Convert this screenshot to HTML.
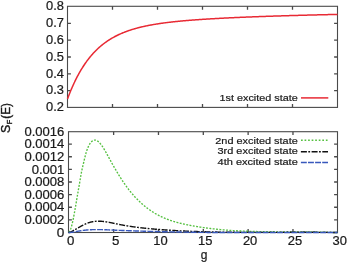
<!DOCTYPE html>
<html><head><meta charset="utf-8"><style>
html,body{margin:0;padding:0;background:#fff;}
body{width:350px;height:263px;overflow:hidden;}
svg{display:block;will-change:transform;filter:blur(0.35px);font-family:"Liberation Sans",sans-serif;}
</style></head><body>
<svg width="350" height="263" viewBox="0 0 350 263">
<rect width="350" height="263" fill="#fff"/>
<g fill="none" stroke="#4a4a4a" stroke-width="1.1">
<rect x="67.5" y="6.3" width="270" height="101.1"/>
<rect x="68.5" y="131.7" width="269" height="100.8"/>
<path d="M112.50,6.30 V9.70 M112.50,107.40 V104.00 M157.50,6.30 V9.70 M157.50,107.40 V104.00 M202.50,6.30 V9.70 M202.50,107.40 V104.00 M247.50,6.30 V9.70 M247.50,107.40 V104.00 M292.50,6.30 V9.70 M292.50,107.40 V104.00 M67.50,23.33 H70.90 M337.50,23.33 H334.10 M67.50,40.17 H70.90 M337.50,40.17 H334.10 M67.50,57.00 H70.90 M337.50,57.00 H334.10 M67.50,73.83 H70.90 M337.50,73.83 H334.10 M67.50,90.67 H70.90 M337.50,90.67 H334.10" stroke-width="1.3"/>
<path d="M113.63,131.70 V135.10 M113.63,232.50 V229.10 M158.47,131.70 V135.10 M158.47,232.50 V229.10 M203.30,131.70 V135.10 M203.30,232.50 V229.10 M248.13,131.70 V135.10 M248.13,232.50 V229.10 M292.97,131.70 V135.10 M292.97,232.50 V229.10 M68.50,144.12 H71.90 M337.50,144.12 H334.10 M68.50,156.75 H71.90 M337.50,156.75 H334.10 M68.50,169.38 H71.90 M337.50,169.38 H334.10 M68.50,182.00 H71.90 M337.50,182.00 H334.10 M68.50,194.62 H71.90 M337.50,194.62 H334.10 M68.50,207.25 H71.90 M337.50,207.25 H334.10 M68.50,219.88 H71.90 M337.50,219.88 H334.10" stroke-width="1.3"/>
</g>
<g fill="none" stroke-linejoin="round">
<path d="M67.50,98.96 L68.00,97.62 L68.50,96.30 L69.00,95.01 L69.50,93.74 L70.00,92.49 L70.50,91.27 L71.00,90.06 L71.50,88.88 L72.00,87.72 L72.50,86.58 L73.00,85.46 L73.50,84.36 L74.00,83.28 L74.50,82.21 L75.00,81.17 L75.50,80.14 L76.00,79.14 L76.50,78.15 L77.00,77.17 L77.50,76.22 L78.00,75.28 L78.50,74.36 L79.00,73.45 L79.50,72.56 L80.00,71.69 L80.50,70.83 L81.00,69.98 L81.50,69.16 L82.00,68.34 L82.50,67.54 L83.00,66.75 L83.50,65.98 L84.00,65.22 L84.50,64.47 L85.00,63.74 L85.50,63.02 L86.00,62.31 L86.50,61.62 L87.00,60.93 L87.50,60.26 L88.00,59.60 L88.50,58.95 L89.00,58.31 L89.50,57.69 L90.00,57.07 L90.50,56.46 L91.00,55.87 L91.50,55.28 L92.00,54.71 L92.50,54.14 L93.00,53.59 L93.50,53.04 L94.00,52.50 L94.50,51.98 L95.00,51.46 L95.50,50.95 L96.00,50.45 L96.50,49.96 L97.00,49.47 L97.50,49.00 L98.00,48.53 L98.50,48.07 L99.00,47.61 L99.50,47.17 L100.00,46.73 L100.50,46.30 L101.00,45.88 L101.50,45.46 L102.00,45.06 L102.50,44.65 L103.00,44.26 L103.50,43.87 L104.00,43.49 L104.50,43.11 L105.00,42.74 L105.50,42.38 L106.00,42.02 L106.50,41.67 L107.00,41.33 L107.50,40.99 L108.00,40.65 L108.50,40.32 L109.00,40.00 L109.50,39.68 L110.00,39.37 L110.50,39.06 L111.00,38.76 L111.50,38.46 L112.00,38.16 L112.50,37.88 L113.00,37.59 L113.50,37.31 L114.00,37.04 L114.50,36.77 L115.00,36.50 L115.50,36.24 L116.00,35.98 L116.50,35.73 L117.00,35.48 L117.50,35.23 L118.00,34.99 L118.50,34.75 L119.00,34.52 L119.50,34.29 L120.00,34.06 L120.50,33.84 L121.00,33.62 L121.50,33.40 L122.00,33.19 L122.50,32.98 L123.00,32.78 L123.50,32.57 L124.00,32.37 L124.50,32.18 L125.00,31.98 L125.50,31.79 L126.00,31.60 L126.50,31.42 L127.00,31.23 L127.50,31.05 L128.00,30.88 L128.50,30.70 L129.00,30.53 L129.50,30.36 L130.00,30.20 L130.50,30.03 L131.00,29.87 L131.50,29.71 L132.00,29.55 L132.50,29.40 L133.00,29.25 L133.50,29.10 L134.00,28.95 L134.50,28.80 L135.00,28.66 L135.50,28.52 L136.00,28.38 L136.50,28.24 L137.00,28.11 L137.50,27.97 L138.00,27.84 L138.50,27.71 L139.00,27.58 L139.50,27.46 L140.00,27.33 L140.50,27.21 L141.00,27.09 L141.50,26.97 L142.00,26.85 L142.50,26.74 L143.00,26.62 L143.50,26.51 L144.00,26.40 L144.50,26.29 L145.00,26.18 L145.50,26.07 L146.00,25.97 L146.50,25.86 L147.00,25.76 L147.50,25.66 L148.00,25.56 L148.50,25.46 L149.00,25.36 L149.50,25.27 L150.00,25.17 L150.50,25.08 L151.00,24.99 L151.50,24.90 L152.00,24.81 L152.50,24.72 L153.00,24.63 L153.50,24.54 L154.00,24.46 L154.50,24.37 L155.00,24.29 L155.50,24.21 L156.00,24.12 L156.50,24.04 L157.00,23.96 L157.50,23.89 L158.00,23.81 L158.50,23.73 L159.00,23.66 L159.50,23.58 L160.00,23.51 L160.50,23.44 L161.00,23.36 L161.50,23.29 L162.00,23.22 L162.50,23.15 L163.00,23.08 L163.50,23.02 L164.00,22.95 L164.50,22.88 L165.00,22.82 L165.50,22.75 L166.00,22.69 L166.50,22.62 L167.00,22.56 L167.50,22.50 L168.00,22.44 L168.50,22.38 L169.00,22.32 L169.50,22.26 L170.00,22.20 L170.50,22.14 L171.00,22.08 L171.50,22.02 L172.00,21.97 L172.50,21.91 L173.00,21.86 L173.50,21.80 L174.00,21.75 L174.50,21.69 L175.00,21.64 L175.50,21.59 L176.00,21.54 L176.50,21.49 L177.00,21.43 L177.50,21.38 L178.00,21.33 L178.50,21.28 L179.00,21.24 L179.50,21.19 L180.00,21.14 L180.50,21.09 L181.00,21.04 L181.50,21.00 L182.00,20.95 L182.50,20.90 L183.00,20.86 L183.50,20.81 L184.00,20.77 L184.50,20.73 L185.00,20.68 L185.50,20.64 L186.00,20.60 L186.50,20.55 L187.00,20.51 L187.50,20.47 L188.00,20.43 L188.50,20.39 L189.00,20.34 L189.50,20.30 L190.00,20.26 L190.50,20.22 L191.00,20.18 L191.50,20.15 L192.00,20.11 L192.50,20.07 L193.00,20.03 L193.50,19.99 L194.00,19.95 L194.50,19.92 L195.00,19.88 L195.50,19.84 L196.00,19.81 L196.50,19.77 L197.00,19.73 L197.50,19.70 L198.00,19.66 L198.50,19.63 L199.00,19.59 L199.50,19.56 L200.00,19.52 L200.50,19.49 L201.00,19.46 L201.50,19.42 L202.00,19.39 L202.50,19.36 L203.00,19.32 L203.50,19.29 L204.00,19.26 L204.50,19.23 L205.00,19.19 L205.50,19.16 L206.00,19.13 L206.50,19.10 L207.00,19.07 L207.50,19.04 L208.00,19.01 L208.50,18.98 L209.00,18.95 L209.50,18.92 L210.00,18.89 L210.50,18.86 L211.00,18.83 L211.50,18.80 L212.00,18.77 L212.50,18.74 L213.00,18.71 L213.50,18.68 L214.00,18.65 L214.50,18.63 L215.00,18.60 L215.50,18.57 L216.00,18.54 L216.50,18.51 L217.00,18.49 L217.50,18.46 L218.00,18.43 L218.50,18.41 L219.00,18.38 L219.50,18.35 L220.00,18.33 L220.50,18.30 L221.00,18.27 L221.50,18.25 L222.00,18.22 L222.50,18.20 L223.00,18.17 L223.50,18.14 L224.00,18.12 L224.50,18.09 L225.00,18.07 L225.50,18.04 L226.00,18.02 L226.50,17.99 L227.00,17.97 L227.50,17.95 L228.00,17.92 L228.50,17.90 L229.00,17.87 L229.50,17.85 L230.00,17.83 L230.50,17.80 L231.00,17.78 L231.50,17.75 L232.00,17.73 L232.50,17.71 L233.00,17.68 L233.50,17.66 L234.00,17.64 L234.50,17.62 L235.00,17.59 L235.50,17.57 L236.00,17.55 L236.50,17.53 L237.00,17.50 L237.50,17.48 L238.00,17.46 L238.50,17.44 L239.00,17.42 L239.50,17.39 L240.00,17.37 L240.50,17.35 L241.00,17.33 L241.50,17.31 L242.00,17.29 L242.50,17.27 L243.00,17.25 L243.50,17.22 L244.00,17.20 L244.50,17.18 L245.00,17.16 L245.50,17.14 L246.00,17.12 L246.50,17.10 L247.00,17.08 L247.50,17.06 L248.00,17.04 L248.50,17.02 L249.00,17.00 L249.50,16.98 L250.00,16.96 L250.50,16.94 L251.00,16.92 L251.50,16.90 L252.00,16.88 L252.50,16.86 L253.00,16.84 L253.50,16.83 L254.00,16.81 L254.50,16.79 L255.00,16.77 L255.50,16.75 L256.00,16.73 L256.50,16.71 L257.00,16.69 L257.50,16.67 L258.00,16.66 L258.50,16.64 L259.00,16.62 L259.50,16.60 L260.00,16.58 L260.50,16.56 L261.00,16.55 L261.50,16.53 L262.00,16.51 L262.50,16.49 L263.00,16.47 L263.50,16.46 L264.00,16.44 L264.50,16.42 L265.00,16.40 L265.50,16.39 L266.00,16.37 L266.50,16.35 L267.00,16.33 L267.50,16.32 L268.00,16.30 L268.50,16.28 L269.00,16.27 L269.50,16.25 L270.00,16.23 L270.50,16.22 L271.00,16.20 L271.50,16.18 L272.00,16.17 L272.50,16.15 L273.00,16.13 L273.50,16.12 L274.00,16.10 L274.50,16.08 L275.00,16.07 L275.50,16.05 L276.00,16.03 L276.50,16.02 L277.00,16.00 L277.50,15.99 L278.00,15.97 L278.50,15.95 L279.00,15.94 L279.50,15.92 L280.00,15.91 L280.50,15.89 L281.00,15.88 L281.50,15.86 L282.00,15.84 L282.50,15.83 L283.00,15.81 L283.50,15.80 L284.00,15.78 L284.50,15.77 L285.00,15.75 L285.50,15.74 L286.00,15.72 L286.50,15.71 L287.00,15.69 L287.50,15.68 L288.00,15.66 L288.50,15.65 L289.00,15.63 L289.50,15.62 L290.00,15.60 L290.50,15.59 L291.00,15.57 L291.50,15.56 L292.00,15.55 L292.50,15.53 L293.00,15.52 L293.50,15.50 L294.00,15.49 L294.50,15.47 L295.00,15.46 L295.50,15.45 L296.00,15.43 L296.50,15.42 L297.00,15.40 L297.50,15.39 L298.00,15.38 L298.50,15.36 L299.00,15.35 L299.50,15.33 L300.00,15.32 L300.50,15.31 L301.00,15.29 L301.50,15.28 L302.00,15.27 L302.50,15.25 L303.00,15.24 L303.50,15.23 L304.00,15.21 L304.50,15.20 L305.00,15.19 L305.50,15.17 L306.00,15.16 L306.50,15.15 L307.00,15.13 L307.50,15.12 L308.00,15.11 L308.50,15.09 L309.00,15.08 L309.50,15.07 L310.00,15.06 L310.50,15.04 L311.00,15.03 L311.50,15.02 L312.00,15.00 L312.50,14.99 L313.00,14.98 L313.50,14.97 L314.00,14.95 L314.50,14.94 L315.00,14.93 L315.50,14.92 L316.00,14.90 L316.50,14.89 L317.00,14.88 L317.50,14.87 L318.00,14.86 L318.50,14.84 L319.00,14.83 L319.50,14.82 L320.00,14.81 L320.50,14.80 L321.00,14.78 L321.50,14.77 L322.00,14.76 L322.50,14.75 L323.00,14.74 L323.50,14.72 L324.00,14.71 L324.50,14.70 L325.00,14.69 L325.50,14.68 L326.00,14.67 L326.50,14.65 L327.00,14.64 L327.50,14.63 L328.00,14.62 L328.50,14.61 L329.00,14.60 L329.50,14.59 L330.00,14.57 L330.50,14.56 L331.00,14.55 L331.50,14.54 L332.00,14.53 L332.50,14.52 L333.00,14.51 L333.50,14.50 L334.00,14.48 L334.50,14.47 L335.00,14.46 L335.50,14.45 L336.00,14.44 L336.50,14.43 L337.00,14.42 L337.50,14.41" stroke="#e82a34" stroke-width="1.5"/>
<path d="M68.50,232.02 L68.75,231.99 L69.00,231.87 L69.25,231.67 L69.50,231.38 L69.75,231.01 L70.00,230.57 L70.25,230.05 L70.50,229.45 L70.75,228.79 L71.00,228.07 L71.25,227.27 L71.50,226.42 L71.75,225.51 L72.00,224.55 L72.25,223.53 L72.50,222.46 L72.75,221.35 L73.00,220.19 L73.25,218.99 L73.50,217.75 L73.75,216.48 L74.00,215.17 L74.25,213.83 L74.50,212.47 L74.75,211.08 L75.00,209.67 L75.25,208.24 L75.50,206.80 L75.75,205.34 L76.00,203.87 L76.25,202.39 L76.50,200.91 L76.75,199.43 L77.00,197.94 L77.25,196.46 L77.50,194.98 L77.75,193.51 L78.00,192.05 L78.25,190.60 L78.50,189.17 L78.75,187.75 L79.00,186.36 L79.25,184.97 L79.50,183.57 L79.75,182.15 L80.00,180.69 L80.25,179.17 L80.50,177.65 L80.75,176.14 L81.00,174.71 L81.25,173.36 L81.50,172.08 L81.75,170.87 L82.00,169.72 L82.25,168.60 L82.50,167.51 L82.75,166.45 L83.00,165.38 L83.25,164.32 L83.50,163.24 L83.75,162.14 L84.00,161.05 L84.25,159.96 L84.50,158.88 L84.75,157.82 L85.00,156.80 L85.25,155.82 L85.50,154.87 L85.75,153.97 L86.00,153.10 L86.25,152.27 L86.50,151.47 L86.75,150.71 L87.00,149.98 L87.25,149.29 L87.50,148.63 L87.75,147.99 L88.00,147.39 L88.25,146.82 L88.50,146.28 L88.75,145.76 L89.00,145.27 L89.25,144.81 L89.50,144.37 L89.75,143.95 L90.00,143.56 L90.25,143.19 L90.50,142.84 L90.75,142.52 L91.00,142.21 L91.25,141.93 L91.50,141.67 L91.75,141.43 L92.00,141.21 L92.25,141.01 L92.50,140.84 L92.75,140.68 L93.00,140.54 L93.25,140.42 L93.50,140.32 L93.75,140.23 L94.00,140.17 L94.25,140.12 L94.50,140.09 L94.75,140.08 L95.00,140.09 L95.25,140.11 L95.50,140.15 L95.75,140.20 L96.00,140.27 L96.25,140.36 L96.50,140.46 L96.75,140.57 L97.00,140.70 L97.25,140.85 L97.50,141.01 L97.75,141.18 L98.00,141.36 L98.25,141.56 L98.50,141.77 L98.75,141.99 L99.00,142.23 L99.25,142.47 L99.50,142.73 L99.75,143.00 L100.00,143.28 L100.25,143.57 L100.50,143.87 L100.75,144.18 L101.00,144.50 L101.25,144.83 L101.50,145.16 L101.75,145.51 L102.00,145.86 L102.25,146.23 L102.50,146.60 L102.75,146.97 L103.00,147.36 L103.25,147.75 L103.50,148.15 L103.75,148.55 L104.00,148.96 L104.25,149.37 L104.50,149.79 L104.75,150.22 L105.00,150.65 L105.25,151.08 L105.50,151.52 L105.75,151.96 L106.00,152.40 L106.25,152.85 L106.50,153.30 L106.75,153.76 L107.00,154.21 L107.25,154.67 L107.50,155.12 L107.75,155.58 L108.00,156.04 L108.25,156.50 L108.50,156.96 L108.75,157.42 L109.00,157.89 L109.25,158.34 L109.50,158.80 L109.75,159.26 L110.00,159.72 L110.25,160.17 L110.50,160.63 L110.75,161.08 L111.00,161.53 L111.25,161.98 L111.50,162.43 L111.75,162.88 L112.00,163.33 L112.25,163.78 L112.50,164.22 L112.75,164.67 L113.00,165.11 L113.25,165.55 L113.50,165.99 L113.75,166.43 L114.00,166.87 L114.25,167.30 L114.50,167.74 L114.75,168.17 L115.00,168.60 L115.25,169.03 L115.50,169.46 L115.75,169.89 L116.00,170.32 L116.25,170.74 L116.50,171.16 L116.75,171.59 L117.00,172.01 L117.25,172.42 L117.50,172.84 L117.75,173.26 L118.00,173.67 L118.25,174.08 L118.50,174.49 L118.75,174.90 L119.00,175.30 L119.25,175.71 L119.50,176.11 L119.75,176.51 L120.00,176.91 L120.25,177.31 L120.50,177.70 L120.75,178.10 L121.00,178.49 L121.25,178.88 L121.50,179.27 L121.75,179.65 L122.00,180.03 L122.25,180.42 L122.50,180.80 L122.75,181.17 L123.00,181.55 L123.25,181.92 L123.50,182.29 L123.75,182.66 L124.00,183.03 L124.25,183.39 L124.50,183.75 L124.75,184.11 L125.00,184.47 L125.25,184.83 L125.50,185.18 L125.75,185.53 L126.00,185.88 L126.25,186.23 L126.50,186.57 L126.75,186.91 L127.00,187.25 L127.25,187.59 L127.50,187.92 L127.75,188.26 L128.00,188.59 L128.25,188.91 L128.50,189.24 L128.75,189.56 L129.00,189.89 L129.25,190.20 L129.50,190.52 L129.75,190.84 L130.00,191.15 L130.25,191.46 L130.50,191.77 L130.75,192.08 L131.00,192.38 L131.25,192.68 L131.50,192.98 L131.75,193.28 L132.00,193.58 L132.25,193.87 L132.50,194.16 L132.75,194.45 L133.00,194.74 L133.25,195.03 L133.50,195.31 L133.75,195.59 L134.00,195.87 L134.25,196.15 L134.50,196.43 L134.75,196.70 L135.00,196.97 L135.25,197.25 L135.50,197.51 L135.75,197.78 L136.00,198.04 L136.25,198.31 L136.50,198.57 L136.75,198.83 L137.00,199.08 L137.25,199.34 L137.50,199.59 L137.75,199.84 L138.00,200.09 L138.25,200.34 L138.50,200.59 L138.75,200.83 L139.00,201.07 L139.25,201.31 L139.50,201.55 L139.75,201.79 L140.00,202.03 L140.25,202.26 L140.50,202.49 L140.75,202.72 L141.00,202.95 L141.25,203.18 L141.50,203.40 L141.75,203.63 L142.00,203.85 L142.25,204.07 L142.50,204.29 L142.75,204.50 L143.00,204.72 L143.25,204.93 L143.50,205.15 L143.75,205.36 L144.00,205.56 L144.25,205.77 L144.50,205.98 L144.75,206.18 L145.00,206.38 L145.25,206.59 L145.50,206.79 L145.75,206.98 L146.00,207.18 L146.25,207.38 L146.50,207.57 L146.75,207.76 L147.00,207.95 L147.25,208.14 L147.50,208.33 L147.75,208.52 L148.00,208.70 L148.25,208.88 L148.50,209.07 L148.75,209.25 L149.00,209.43 L149.25,209.60 L149.50,209.78 L149.75,209.96 L150.00,210.13 L150.25,210.30 L150.50,210.47 L150.75,210.64 L151.00,210.81 L151.25,210.98 L151.50,211.14 L151.75,211.31 L152.00,211.47 L152.25,211.63 L152.50,211.79 L152.75,211.95 L153.00,212.11 L153.25,212.27 L153.50,212.42 L153.75,212.58 L154.00,212.73 L154.25,212.88 L154.50,213.03 L154.75,213.18 L155.00,213.33 L155.25,213.47 L155.50,213.62 L155.75,213.76 L156.00,213.91 L156.25,214.05 L156.50,214.19 L156.75,214.33 L157.00,214.47 L157.25,214.60 L157.50,214.74 L157.75,214.88 L158.00,215.01 L158.25,215.14 L158.50,215.27 L158.75,215.40 L159.00,215.53 L159.25,215.66 L159.50,215.79 L159.75,215.91 L160.00,216.04 L160.25,216.16 L160.50,216.29 L160.75,216.41 L161.00,216.53 L161.25,216.65 L161.50,216.77 L161.75,216.88 L162.00,217.00 L162.25,217.12 L162.50,217.23 L162.75,217.34 L163.00,217.46 L163.25,217.57 L163.50,217.68 L163.75,217.79 L164.00,217.90 L164.25,218.00 L164.50,218.11 L164.75,218.22 L165.00,218.32 L165.25,218.42 L165.50,218.53 L165.75,218.63 L166.00,218.73 L166.25,218.83 L166.50,218.93 L166.75,219.03 L167.00,219.13 L167.25,219.22 L167.50,219.32 L167.75,219.41 L168.00,219.51 L168.25,219.60 L168.50,219.69 L168.75,219.79 L169.00,219.88 L169.25,219.97 L169.50,220.06 L169.75,220.14 L170.00,220.23 L170.25,220.32 L170.50,220.40 L170.75,220.49 L171.00,220.57 L171.25,220.66 L171.50,220.74 L171.75,220.82 L172.00,220.91 L172.25,220.99 L172.50,221.07 L172.75,221.15 L173.00,221.22 L173.25,221.30 L173.50,221.38 L173.75,221.46 L174.00,221.53 L174.25,221.61 L174.50,221.68 L174.75,221.76 L175.00,221.83 L175.25,221.90 L175.50,221.97 L175.75,222.05 L176.00,222.12 L176.25,222.19 L176.50,222.26 L176.75,222.33 L177.00,222.39 L177.25,222.46 L177.50,222.53 L177.75,222.60 L178.00,222.66 L178.25,222.73 L178.50,222.79 L178.75,222.86 L179.00,222.92 L179.25,222.99 L179.50,223.05 L179.75,223.11 L180.00,223.17 L180.25,223.23 L180.50,223.30 L180.75,223.36 L181.00,223.42 L181.25,223.48 L181.50,223.53 L181.75,223.59 L182.00,223.65 L182.25,223.71 L182.50,223.77 L182.75,223.82 L183.00,223.88 L183.25,223.94 L183.50,223.99 L183.75,224.05 L184.00,224.10 L184.25,224.16 L184.50,224.21 L184.75,224.27 L185.00,224.32 L185.25,224.37 L185.50,224.43 L185.75,224.48 L186.00,224.53 L186.25,224.58 L186.50,224.63 L186.75,224.69 L187.00,224.74 L187.25,224.79 L187.50,224.84 L187.75,224.89 L188.00,224.94 L188.25,224.99 L188.50,225.04 L188.75,225.09 L189.00,225.13 L189.25,225.18 L189.50,225.23 L189.75,225.28 L190.00,225.33 L190.25,225.38 L190.50,225.42 L190.75,225.47 L191.00,225.52 L191.25,225.56 L191.50,225.61 L191.75,225.66 L192.00,225.70 L192.25,225.75 L192.50,225.79 L192.75,225.84 L193.00,225.89 L193.25,225.93 L193.50,225.97 L193.75,226.02 L194.00,226.06 L194.25,226.11 L194.50,226.15 L194.75,226.19 L195.00,226.24 L195.25,226.28 L195.50,226.32 L195.75,226.37 L196.00,226.41 L196.25,226.45 L196.50,226.49 L196.75,226.54 L197.00,226.58 L197.25,226.62 L197.50,226.66 L197.75,226.70 L198.00,226.74 L198.25,226.78 L198.50,226.82 L198.75,226.86 L199.00,226.90 L199.25,226.94 L199.50,226.98 L199.75,227.02 L200.00,227.06 L200.25,227.10 L200.50,227.14 L200.75,227.17 L201.00,227.21 L201.25,227.25 L201.50,227.29 L201.75,227.32 L202.00,227.36 L202.25,227.40 L202.50,227.44 L202.75,227.47 L203.00,227.51 L203.25,227.55 L203.50,227.58 L203.75,227.62 L204.00,227.65 L204.25,227.69 L204.50,227.72 L204.75,227.76 L205.00,227.79 L205.25,227.83 L205.50,227.86 L205.75,227.90 L206.00,227.93 L206.25,227.96 L206.50,228.00 L206.75,228.03 L207.00,228.06 L207.25,228.10 L207.50,228.13 L207.75,228.16 L208.00,228.19 L208.25,228.23 L208.50,228.26 L208.75,228.29 L209.00,228.32 L209.25,228.35 L209.50,228.38 L209.75,228.42 L210.00,228.45 L210.25,228.48 L210.50,228.51 L210.75,228.54 L211.00,228.57 L211.25,228.60 L211.50,228.63 L211.75,228.66 L212.00,228.69 L212.25,228.72 L212.50,228.75 L212.75,228.77 L213.00,228.80 L213.25,228.83 L213.50,228.86 L213.75,228.89 L214.00,228.92 L214.25,228.94 L214.50,228.97 L214.75,229.00 L215.00,229.02 L215.25,229.05 L215.50,229.08 L215.75,229.11 L216.00,229.13 L216.25,229.16 L216.50,229.18 L216.75,229.21 L217.00,229.24 L217.25,229.26 L217.50,229.29 L217.75,229.31 L218.00,229.34 L218.25,229.36 L218.50,229.39 L218.75,229.41 L219.00,229.44 L219.25,229.46 L219.50,229.48 L219.75,229.51 L220.00,229.53 L220.25,229.56 L220.50,229.58 L220.75,229.60 L221.00,229.63 L221.25,229.65 L221.50,229.67 L221.75,229.69 L222.00,229.72 L222.25,229.74 L222.50,229.76 L222.75,229.78 L223.00,229.80 L223.25,229.83 L223.50,229.85 L223.75,229.87 L224.00,229.89 L224.25,229.91 L224.50,229.93 L224.75,229.95 L225.00,229.97 L225.25,229.99 L225.50,230.01 L225.75,230.03 L226.00,230.05 L226.25,230.07 L226.50,230.09 L226.75,230.11 L227.00,230.13 L227.25,230.15 L227.50,230.17 L227.75,230.19 L228.00,230.21 L228.25,230.23 L228.50,230.24 L228.75,230.26 L229.00,230.28 L229.25,230.30 L229.50,230.32 L229.75,230.33 L230.00,230.35 L230.25,230.37 L230.50,230.39 L230.75,230.40 L231.00,230.42 L231.25,230.44 L231.50,230.45 L231.75,230.47 L232.00,230.49 L232.25,230.50 L232.50,230.52 L232.75,230.54 L233.00,230.55 L233.25,230.57 L233.50,230.58 L233.75,230.60 L234.00,230.61 L234.25,230.63 L234.50,230.65 L234.75,230.66 L235.00,230.67 L235.25,230.69 L235.50,230.70 L235.75,230.72 L236.00,230.73 L236.25,230.75 L236.50,230.76 L236.75,230.78 L237.00,230.79 L237.25,230.80 L237.50,230.82 L237.75,230.83 L238.00,230.84 L238.25,230.86 L238.50,230.87 L238.75,230.88 L239.00,230.90 L239.25,230.91 L239.50,230.92 L239.75,230.93 L240.00,230.95 L240.25,230.96 L240.50,230.97 L240.75,230.98 L241.00,230.99 L241.25,231.01 L241.50,231.02 L241.75,231.03 L242.00,231.04 L242.25,231.05 L242.50,231.06 L242.75,231.07 L243.00,231.09 L243.25,231.10 L243.50,231.11 L243.75,231.12 L244.00,231.13 L244.25,231.14 L244.50,231.15 L244.75,231.16 L245.00,231.17 L245.25,231.18 L245.50,231.19 L245.75,231.20 L246.00,231.21 L246.25,231.22 L246.50,231.23 L246.75,231.24 L247.00,231.25 L247.25,231.26 L247.50,231.26 L247.75,231.27 L248.00,231.28 L248.25,231.29 L248.50,231.30 L248.75,231.31 L249.00,231.32 L249.25,231.33 L249.50,231.33 L249.75,231.34 L250.00,231.35 L250.25,231.36 L250.50,231.37 L250.75,231.37 L251.00,231.38 L251.25,231.39 L251.50,231.40 L251.75,231.40 L252.00,231.41 L252.25,231.42 L252.50,231.43 L252.75,231.43 L253.00,231.44 L253.25,231.45 L253.50,231.45 L253.75,231.46 L254.00,231.47 L254.25,231.47 L254.50,231.48 L254.75,231.49 L255.00,231.49 L255.25,231.50 L255.50,231.51 L255.75,231.51 L256.00,231.52 L256.25,231.52 L256.50,231.53 L256.75,231.54 L257.00,231.54 L257.25,231.55 L257.50,231.55 L257.75,231.56 L258.00,231.56 L258.25,231.57 L258.50,231.57 L258.75,231.58 L259.00,231.58 L259.25,231.59 L259.50,231.59 L259.75,231.60 L260.00,231.60 L260.25,231.61 L260.50,231.61 L260.75,231.62 L261.00,231.62 L261.25,231.63 L261.50,231.63 L261.75,231.64 L262.00,231.64 L262.25,231.64 L262.50,231.65 L262.75,231.65 L263.00,231.66 L263.25,231.66 L263.50,231.67 L263.75,231.67 L264.00,231.67 L264.25,231.68 L264.50,231.68 L264.75,231.68 L265.00,231.69 L265.25,231.69 L265.50,231.69 L265.75,231.70 L266.00,231.70 L266.25,231.70 L266.50,231.71 L266.75,231.71 L267.00,231.71 L267.25,231.72 L267.50,231.72 L267.75,231.72 L268.00,231.73 L268.25,231.73 L268.50,231.73 L268.75,231.73 L269.00,231.74 L269.25,231.74 L269.50,231.74 L269.75,231.74 L270.00,231.75 L270.25,231.75 L270.50,231.75 L270.75,231.75 L271.00,231.76 L271.25,231.76 L271.50,231.76 L271.75,231.76 L272.00,231.76 L272.25,231.77 L272.50,231.77 L272.75,231.77 L273.00,231.77 L273.25,231.77 L273.50,231.78 L273.75,231.78 L274.00,231.78 L274.25,231.78 L274.50,231.78 L274.75,231.79 L275.00,231.79 L275.25,231.79 L275.50,231.79 L275.75,231.79 L276.00,231.79 L276.25,231.80 L276.50,231.80 L276.75,231.80 L277.00,231.80 L277.25,231.80 L277.50,231.80 L277.75,231.80 L278.00,231.80 L278.25,231.81 L278.50,231.81 L278.75,231.81 L279.00,231.81 L279.25,231.81 L279.50,231.81 L279.75,231.81 L280.00,231.81 L280.25,231.82 L280.50,231.82 L280.75,231.82 L281.00,231.82 L281.25,231.82 L281.50,231.82 L281.75,231.82 L282.00,231.82 L282.25,231.82 L282.50,231.82 L282.75,231.83 L283.00,231.83 L283.25,231.83 L283.50,231.83 L283.75,231.83 L284.00,231.83 L284.25,231.83 L284.50,231.83 L284.75,231.83 L285.00,231.83 L285.25,231.83 L285.50,231.83 L285.75,231.83 L286.00,231.84 L286.25,231.84 L286.50,231.84 L286.75,231.84 L287.00,231.84 L287.25,231.84 L287.50,231.84 L287.75,231.84 L288.00,231.84 L288.25,231.84 L288.50,231.84 L288.75,231.84 L289.00,231.84 L289.25,231.84 L289.50,231.85 L289.75,231.85 L290.00,231.85 L290.25,231.85 L290.50,231.85 L290.75,231.85 L291.00,231.85 L291.25,231.85 L291.50,231.85 L291.75,231.85 L292.00,231.85 L292.25,231.85 L292.50,231.85 L292.75,231.85 L293.00,231.85 L293.25,231.86 L293.50,231.86 L293.75,231.86 L294.00,231.86 L294.25,231.86 L294.50,231.86 L294.75,231.86 L295.00,231.86 L295.25,231.86 L295.50,231.86 L295.75,231.86 L296.00,231.86 L296.25,231.87 L296.50,231.87 L296.75,231.87 L297.00,231.87 L297.25,231.87 L297.50,231.87 L297.75,231.87 L298.00,231.87 L298.25,231.87 L298.50,231.87 L298.75,231.88 L299.00,231.88 L299.25,231.88 L299.50,231.88 L299.75,231.88 L300.00,231.88 L300.25,231.88 L300.50,231.88 L300.75,231.88 L301.00,231.89 L301.25,231.89 L301.50,231.89 L301.75,231.89 L302.00,231.89 L302.25,231.89 L302.50,231.89 L302.75,231.90 L303.00,231.90 L303.25,231.90 L303.50,231.90 L303.75,231.90 L304.00,231.90 L304.25,231.91 L304.50,231.91 L304.75,231.91 L305.00,231.91 L305.25,231.91 L305.50,231.91 L305.75,231.92 L306.00,231.92 L306.25,231.92 L306.50,231.92 L306.75,231.92 L307.00,231.93 L307.25,231.93 L307.50,231.93 L307.75,231.93 L308.00,231.94 L308.25,231.94 L308.50,231.94 L308.75,231.94 L309.00,231.95 L309.25,231.95 L309.50,231.95 L309.75,231.95 L310.00,231.96 L310.25,231.96 L310.50,231.96 L310.75,231.96 L311.00,231.97 L311.25,231.97 L311.50,231.97 L311.75,231.98 L312.00,231.98 L312.25,231.98 L312.50,231.99 L312.75,231.99 L313.00,231.99 L313.25,232.00 L313.50,232.00 L313.75,232.00 L314.00,232.01 L314.25,232.01 L314.50,232.01 L314.75,232.02 L315.00,232.02 L315.25,232.02 L315.50,232.03 L315.75,232.03 L316.00,232.04 L316.25,232.04 L316.50,232.04 L316.75,232.05 L317.00,232.05 L317.25,232.06 L317.50,232.06 L317.75,232.07 L318.00,232.07 L318.25,232.08 L318.50,232.08 L318.75,232.09 L319.00,232.09 L319.25,232.09 L319.50,232.10 L319.75,232.11 L320.00,232.11 L320.25,232.12 L320.50,232.12 L320.75,232.13 L321.00,232.13 L321.25,232.14 L321.50,232.14 L321.75,232.15 L322.00,232.15 L322.25,232.16 L322.50,232.17 L322.75,232.17 L323.00,232.18 L323.25,232.18 L323.50,232.19 L323.75,232.20 L324.00,232.20 L324.25,232.21 L324.50,232.22 L324.75,232.22 L325.00,232.23 L325.25,232.24 L325.50,232.24 L325.75,232.25 L326.00,232.26 L326.25,232.26 L326.50,232.27 L326.75,232.28 L327.00,232.29 L327.25,232.29 L327.50,232.30 L327.75,232.31 L328.00,232.32 L328.25,232.32 L328.50,232.33 L328.75,232.34 L329.00,232.35 L329.25,232.36 L329.50,232.36 L329.75,232.37 L330.00,232.38 L330.25,232.39 L330.50,232.40 L330.75,232.41 L331.00,232.42 L331.25,232.43 L331.50,232.43 L331.75,232.44 L332.00,232.45 L332.25,232.46 L332.50,232.47 L332.75,232.48 L333.00,232.49 L333.25,232.50 L333.50,232.50 L333.75,232.50 L334.00,232.50 L334.25,232.50 L334.50,232.50 L334.75,232.50 L335.00,232.50 L335.25,232.50 L335.50,232.50 L335.75,232.50 L336.00,232.50 L336.25,232.50 L336.50,232.50 L336.75,232.50 L337.00,232.50 L337.25,232.50 L337.50,232.50" stroke="#55c040" stroke-width="1.35" stroke-dasharray="1.9 1.45"/>
<path d="M68.50,232.50 L68.75,232.50 L69.00,232.50 L69.25,232.50 L69.50,232.47 L69.75,232.36 L70.00,232.24 L70.25,232.13 L70.50,232.01 L70.75,231.89 L71.00,231.77 L71.25,231.65 L71.50,231.52 L71.75,231.40 L72.00,231.27 L72.25,231.14 L72.50,231.01 L72.75,230.88 L73.00,230.74 L73.25,230.61 L73.50,230.47 L73.75,230.34 L74.00,230.20 L74.25,230.06 L74.50,229.92 L74.75,229.78 L75.00,229.64 L75.25,229.50 L75.50,229.35 L75.75,229.21 L76.00,229.07 L76.25,228.93 L76.50,228.78 L76.75,228.64 L77.00,228.49 L77.25,228.35 L77.50,228.21 L77.75,228.06 L78.00,227.92 L78.25,227.78 L78.50,227.63 L78.75,227.49 L79.00,227.35 L79.25,227.21 L79.50,227.07 L79.75,226.92 L80.00,226.78 L80.25,226.65 L80.50,226.51 L80.75,226.37 L81.00,226.23 L81.25,226.10 L81.50,225.96 L81.75,225.83 L82.00,225.69 L82.25,225.56 L82.50,225.43 L82.75,225.30 L83.00,225.17 L83.25,225.05 L83.50,224.92 L83.75,224.80 L84.00,224.67 L84.25,224.55 L84.50,224.43 L84.75,224.31 L85.00,224.20 L85.25,224.08 L85.50,223.97 L85.75,223.86 L86.00,223.75 L86.25,223.64 L86.50,223.54 L86.75,223.44 L87.00,223.34 L87.25,223.24 L87.50,223.14 L87.75,223.05 L88.00,222.96 L88.25,222.87 L88.50,222.78 L88.75,222.70 L89.00,222.61 L89.25,222.54 L89.50,222.46 L89.75,222.38 L90.00,222.31 L90.25,222.24 L90.50,222.18 L90.75,222.11 L91.00,222.05 L91.25,221.99 L91.50,221.94 L91.75,221.88 L92.00,221.83 L92.25,221.78 L92.50,221.73 L92.75,221.69 L93.00,221.64 L93.25,221.60 L93.50,221.56 L93.75,221.53 L94.00,221.49 L94.25,221.46 L94.50,221.43 L94.75,221.40 L95.00,221.38 L95.25,221.35 L95.50,221.33 L95.75,221.31 L96.00,221.29 L96.25,221.27 L96.50,221.26 L96.75,221.25 L97.00,221.24 L97.25,221.23 L97.50,221.22 L97.75,221.21 L98.00,221.21 L98.25,221.21 L98.50,221.21 L98.75,221.21 L99.00,221.21 L99.25,221.21 L99.50,221.22 L99.75,221.23 L100.00,221.23 L100.25,221.24 L100.50,221.26 L100.75,221.27 L101.00,221.28 L101.25,221.30 L101.50,221.32 L101.75,221.34 L102.00,221.36 L102.25,221.38 L102.50,221.40 L102.75,221.42 L103.00,221.45 L103.25,221.47 L103.50,221.50 L103.75,221.53 L104.00,221.56 L104.25,221.59 L104.50,221.62 L104.75,221.65 L105.00,221.69 L105.25,221.72 L105.50,221.76 L105.75,221.79 L106.00,221.83 L106.25,221.87 L106.50,221.91 L106.75,221.95 L107.00,221.99 L107.25,222.03 L107.50,222.07 L107.75,222.11 L108.00,222.16 L108.25,222.20 L108.50,222.25 L108.75,222.29 L109.00,222.34 L109.25,222.39 L109.50,222.43 L109.75,222.48 L110.00,222.53 L110.25,222.58 L110.50,222.63 L110.75,222.68 L111.00,222.73 L111.25,222.78 L111.50,222.83 L111.75,222.88 L112.00,222.93 L112.25,222.98 L112.50,223.03 L112.75,223.09 L113.00,223.14 L113.25,223.19 L113.50,223.24 L113.75,223.30 L114.00,223.35 L114.25,223.40 L114.50,223.45 L114.75,223.51 L115.00,223.56 L115.25,223.61 L115.50,223.67 L115.75,223.72 L116.00,223.77 L116.25,223.82 L116.50,223.88 L116.75,223.93 L117.00,223.98 L117.25,224.03 L117.50,224.08 L117.75,224.14 L118.00,224.19 L118.25,224.24 L118.50,224.29 L118.75,224.34 L119.00,224.39 L119.25,224.44 L119.50,224.49 L119.75,224.53 L120.00,224.58 L120.25,224.63 L120.50,224.68 L120.75,224.73 L121.00,224.78 L121.25,224.82 L121.50,224.87 L121.75,224.92 L122.00,224.96 L122.25,225.01 L122.50,225.05 L122.75,225.10 L123.00,225.15 L123.25,225.19 L123.50,225.23 L123.75,225.28 L124.00,225.32 L124.25,225.37 L124.50,225.41 L124.75,225.45 L125.00,225.50 L125.25,225.54 L125.50,225.58 L125.75,225.63 L126.00,225.67 L126.25,225.71 L126.50,225.75 L126.75,225.79 L127.00,225.83 L127.25,225.88 L127.50,225.92 L127.75,225.96 L128.00,226.00 L128.25,226.04 L128.50,226.08 L128.75,226.12 L129.00,226.15 L129.25,226.19 L129.50,226.23 L129.75,226.27 L130.00,226.31 L130.25,226.35 L130.50,226.39 L130.75,226.42 L131.00,226.46 L131.25,226.50 L131.50,226.53 L131.75,226.57 L132.00,226.61 L132.25,226.64 L132.50,226.68 L132.75,226.71 L133.00,226.75 L133.25,226.79 L133.50,226.82 L133.75,226.86 L134.00,226.89 L134.25,226.92 L134.50,226.96 L134.75,226.99 L135.00,227.03 L135.25,227.06 L135.50,227.09 L135.75,227.13 L136.00,227.16 L136.25,227.19 L136.50,227.23 L136.75,227.26 L137.00,227.29 L137.25,227.32 L137.50,227.35 L137.75,227.39 L138.00,227.42 L138.25,227.45 L138.50,227.48 L138.75,227.51 L139.00,227.54 L139.25,227.57 L139.50,227.60 L139.75,227.63 L140.00,227.66 L140.25,227.69 L140.50,227.72 L140.75,227.75 L141.00,227.78 L141.25,227.81 L141.50,227.84 L141.75,227.86 L142.00,227.89 L142.25,227.92 L142.50,227.95 L142.75,227.98 L143.00,228.00 L143.25,228.03 L143.50,228.06 L143.75,228.09 L144.00,228.11 L144.25,228.14 L144.50,228.17 L144.75,228.19 L145.00,228.22 L145.25,228.25 L145.50,228.27 L145.75,228.30 L146.00,228.32 L146.25,228.35 L146.50,228.38 L146.75,228.40 L147.00,228.43 L147.25,228.45 L147.50,228.48 L147.75,228.50 L148.00,228.53 L148.25,228.55 L148.50,228.57 L148.75,228.60 L149.00,228.62 L149.25,228.65 L149.50,228.67 L149.75,228.69 L150.00,228.72 L150.25,228.74 L150.50,228.76 L150.75,228.79 L151.00,228.81 L151.25,228.83 L151.50,228.85 L151.75,228.88 L152.00,228.90 L152.25,228.92 L152.50,228.94 L152.75,228.97 L153.00,228.99 L153.25,229.01 L153.50,229.03 L153.75,229.05 L154.00,229.07 L154.25,229.09 L154.50,229.12 L154.75,229.14 L155.00,229.16 L155.25,229.18 L155.50,229.20 L155.75,229.22 L156.00,229.24 L156.25,229.26 L156.50,229.28 L156.75,229.30 L157.00,229.32 L157.25,229.34 L157.50,229.36 L157.75,229.38 L158.00,229.40 L158.25,229.42 L158.50,229.44 L158.75,229.46 L159.00,229.48 L159.25,229.50 L159.50,229.52 L159.75,229.54 L160.00,229.56 L160.25,229.57 L160.50,229.59 L160.75,229.61 L161.00,229.63 L161.25,229.65 L161.50,229.67 L161.75,229.69 L162.00,229.70 L162.25,229.72 L162.50,229.74 L162.75,229.76 L163.00,229.78 L163.25,229.79 L163.50,229.81 L163.75,229.83 L164.00,229.85 L164.25,229.86 L164.50,229.88 L164.75,229.90 L165.00,229.92 L165.25,229.93 L165.50,229.95 L165.75,229.97 L166.00,229.99 L166.25,230.00 L166.50,230.02 L166.75,230.04 L167.00,230.05 L167.25,230.07 L167.50,230.09 L167.75,230.10 L168.00,230.12 L168.25,230.14 L168.50,230.15 L168.75,230.17 L169.00,230.18 L169.25,230.20 L169.50,230.22 L169.75,230.23 L170.00,230.25 L170.25,230.26 L170.50,230.28 L170.75,230.29 L171.00,230.31 L171.25,230.33 L171.50,230.34 L171.75,230.36 L172.00,230.37 L172.25,230.39 L172.50,230.40 L172.75,230.42 L173.00,230.43 L173.25,230.45 L173.50,230.46 L173.75,230.48 L174.00,230.49 L174.25,230.51 L174.50,230.52 L174.75,230.53 L175.00,230.55 L175.25,230.56 L175.50,230.58 L175.75,230.59 L176.00,230.61 L176.25,230.62 L176.50,230.63 L176.75,230.65 L177.00,230.66 L177.25,230.67 L177.50,230.69 L177.75,230.70 L178.00,230.72 L178.25,230.73 L178.50,230.74 L178.75,230.76 L179.00,230.77 L179.25,230.78 L179.50,230.79 L179.75,230.81 L180.00,230.82 L180.25,230.83 L180.50,230.85 L180.75,230.86 L181.00,230.87 L181.25,230.88 L181.50,230.90 L181.75,230.91 L182.00,230.92 L182.25,230.93 L182.50,230.95 L182.75,230.96 L183.00,230.97 L183.25,230.98 L183.50,230.99 L183.75,231.01 L184.00,231.02 L184.25,231.03 L184.50,231.04 L184.75,231.05 L185.00,231.07 L185.25,231.08 L185.50,231.09 L185.75,231.10 L186.00,231.11 L186.25,231.12 L186.50,231.13 L186.75,231.14 L187.00,231.16 L187.25,231.17 L187.50,231.18 L187.75,231.19 L188.00,231.20 L188.25,231.21 L188.50,231.22 L188.75,231.23 L189.00,231.24 L189.25,231.25 L189.50,231.26 L189.75,231.27 L190.00,231.28 L190.25,231.29 L190.50,231.30 L190.75,231.31 L191.00,231.33 L191.25,231.34 L191.50,231.35 L191.75,231.36 L192.00,231.36 L192.25,231.37 L192.50,231.38 L192.75,231.39 L193.00,231.40 L193.25,231.41 L193.50,231.42 L193.75,231.43 L194.00,231.44 L194.25,231.45 L194.50,231.46 L194.75,231.47 L195.00,231.48 L195.25,231.49 L195.50,231.50 L195.75,231.51 L196.00,231.51 L196.25,231.52 L196.50,231.53 L196.75,231.54 L197.00,231.55 L197.25,231.56 L197.50,231.57 L197.75,231.58 L198.00,231.58 L198.25,231.59 L198.50,231.60 L198.75,231.61 L199.00,231.62 L199.25,231.63 L199.50,231.63 L199.75,231.64 L200.00,231.65 L200.25,231.66 L200.50,231.67 L200.75,231.67 L201.00,231.68 L201.25,231.69 L201.50,231.70 L201.75,231.70 L202.00,231.71 L202.25,231.72 L202.50,231.73 L202.75,231.73 L203.00,231.74 L203.25,231.75 L203.50,231.76 L203.75,231.76 L204.00,231.77 L204.25,231.78 L204.50,231.79 L204.75,231.79 L205.00,231.80 L205.25,231.81 L205.50,231.81 L205.75,231.82 L206.00,231.83 L206.25,231.83 L206.50,231.84 L206.75,231.85 L207.00,231.85 L207.25,231.86 L207.50,231.87 L207.75,231.87 L208.00,231.88 L208.25,231.89 L208.50,231.89 L208.75,231.90 L209.00,231.90 L209.25,231.91 L209.50,231.92 L209.75,231.92 L210.00,231.93 L210.25,231.93 L210.50,231.94 L210.75,231.95 L211.00,231.95 L211.25,231.96 L211.50,231.96 L211.75,231.97 L212.00,231.97 L212.25,231.98 L212.50,231.99 L212.75,231.99 L213.00,232.00 L213.25,232.00 L213.50,232.01 L213.75,232.01 L214.00,232.02 L214.25,232.02 L214.50,232.03 L214.75,232.03 L215.00,232.04 L215.25,232.04 L215.50,232.05 L215.75,232.05 L216.00,232.06 L216.25,232.06 L216.50,232.07 L216.75,232.07 L217.00,232.08 L217.25,232.08 L217.50,232.09 L217.75,232.09 L218.00,232.09 L218.25,232.10 L218.50,232.10 L218.75,232.11 L219.00,232.11 L219.25,232.12 L219.50,232.12 L219.75,232.13 L220.00,232.13 L220.25,232.13 L220.50,232.14 L220.75,232.14 L221.00,232.15 L221.25,232.15 L221.50,232.15 L221.75,232.16 L222.00,232.16 L222.25,232.17 L222.50,232.17 L222.75,232.17 L223.00,232.18 L223.25,232.18 L223.50,232.18 L223.75,232.19 L224.00,232.19 L224.25,232.19 L224.50,232.20 L224.75,232.20 L225.00,232.21 L225.25,232.21 L225.50,232.21 L225.75,232.22 L226.00,232.22 L226.25,232.22 L226.50,232.22 L226.75,232.23 L227.00,232.23 L227.25,232.23 L227.50,232.24 L227.75,232.24 L228.00,232.24 L228.25,232.25 L228.50,232.25 L228.75,232.25 L229.00,232.25 L229.25,232.26 L229.50,232.26 L229.75,232.26 L230.00,232.27 L230.25,232.27 L230.50,232.27 L230.75,232.27 L231.00,232.28 L231.25,232.28 L231.50,232.28 L231.75,232.28 L232.00,232.29 L232.25,232.29 L232.50,232.29 L232.75,232.29 L233.00,232.30 L233.25,232.30 L233.50,232.30 L233.75,232.30 L234.00,232.30 L234.25,232.31 L234.50,232.31 L234.75,232.31 L235.00,232.31 L235.25,232.31 L235.50,232.32 L235.75,232.32 L236.00,232.32 L236.25,232.32 L236.50,232.32 L236.75,232.33 L237.00,232.33 L237.25,232.33 L237.50,232.33 L237.75,232.33 L238.00,232.33 L238.25,232.34 L238.50,232.34 L238.75,232.34 L239.00,232.34 L239.25,232.34 L239.50,232.34 L239.75,232.35 L240.00,232.35 L240.25,232.35 L240.50,232.35 L240.75,232.35 L241.00,232.35 L241.25,232.35 L241.50,232.36 L241.75,232.36 L242.00,232.36 L242.25,232.36 L242.50,232.36 L242.75,232.36 L243.00,232.36 L243.25,232.36 L243.50,232.36 L243.75,232.37 L244.00,232.37 L244.25,232.37 L244.50,232.37 L244.75,232.37 L245.00,232.37 L245.25,232.37 L245.50,232.37 L245.75,232.37 L246.00,232.37 L246.25,232.37 L246.50,232.38 L246.75,232.38 L247.00,232.38 L247.25,232.38 L247.50,232.38 L247.75,232.38 L248.00,232.38 L248.25,232.38 L248.50,232.38 L248.75,232.38 L249.00,232.38 L249.25,232.38 L249.50,232.38 L249.75,232.38 L250.00,232.38 L250.25,232.39 L250.50,232.39 L250.75,232.39 L251.00,232.39 L251.25,232.39 L251.50,232.39 L251.75,232.39 L252.00,232.39 L252.25,232.39 L252.50,232.39 L252.75,232.39 L253.00,232.39 L253.25,232.39 L253.50,232.39 L253.75,232.39 L254.00,232.39 L254.25,232.39 L254.50,232.39 L254.75,232.39 L255.00,232.39 L255.25,232.39 L255.50,232.39 L255.75,232.39 L256.00,232.39 L256.25,232.39 L256.50,232.39 L256.75,232.39 L257.00,232.39 L257.25,232.39 L257.50,232.39 L257.75,232.39 L258.00,232.39 L258.25,232.39 L258.50,232.39 L258.75,232.39 L259.00,232.39 L259.25,232.39 L259.50,232.39 L259.75,232.39 L260.00,232.39 L260.25,232.39 L260.50,232.39 L260.75,232.39 L261.00,232.39 L261.25,232.39 L261.50,232.39 L261.75,232.39 L262.00,232.39 L262.25,232.39 L262.50,232.39 L262.75,232.39 L263.00,232.39 L263.25,232.39 L263.50,232.38 L263.75,232.38 L264.00,232.38 L264.25,232.38 L264.50,232.38 L264.75,232.38 L265.00,232.38 L265.25,232.38 L265.50,232.38 L265.75,232.38 L266.00,232.38 L266.25,232.38 L266.50,232.38 L266.75,232.38 L267.00,232.38 L267.25,232.38 L267.50,232.38 L267.75,232.38 L268.00,232.38 L268.25,232.38 L268.50,232.37 L268.75,232.37 L269.00,232.37 L269.25,232.37 L269.50,232.37 L269.75,232.37 L270.00,232.37 L270.25,232.37 L270.50,232.37 L270.75,232.37 L271.00,232.37 L271.25,232.37 L271.50,232.37 L271.75,232.37 L272.00,232.37 L272.25,232.37 L272.50,232.36 L272.75,232.36 L273.00,232.36 L273.25,232.36 L273.50,232.36 L273.75,232.36 L274.00,232.36 L274.25,232.36 L274.50,232.36 L274.75,232.36 L275.00,232.36 L275.25,232.36 L275.50,232.36 L275.75,232.36 L276.00,232.35 L276.25,232.35 L276.50,232.35 L276.75,232.35 L277.00,232.35 L277.25,232.35 L277.50,232.35 L277.75,232.35 L278.00,232.35 L278.25,232.35 L278.50,232.35 L278.75,232.35 L279.00,232.35 L279.25,232.34 L279.50,232.34 L279.75,232.34 L280.00,232.34 L280.25,232.34 L280.50,232.34 L280.75,232.34 L281.00,232.34 L281.25,232.34 L281.50,232.34 L281.75,232.34 L282.00,232.34 L282.25,232.34 L282.50,232.33 L282.75,232.33 L283.00,232.33 L283.25,232.33 L283.50,232.33 L283.75,232.33 L284.00,232.33 L284.25,232.33 L284.50,232.33 L284.75,232.33 L285.00,232.33 L285.25,232.33 L285.50,232.33 L285.75,232.32 L286.00,232.32 L286.25,232.32 L286.50,232.32 L286.75,232.32 L287.00,232.32 L287.25,232.32 L287.50,232.32 L287.75,232.32 L288.00,232.32 L288.25,232.32 L288.50,232.32 L288.75,232.32 L289.00,232.32 L289.25,232.31 L289.50,232.31 L289.75,232.31 L290.00,232.31 L290.25,232.31 L290.50,232.31 L290.75,232.31 L291.00,232.31 L291.25,232.31 L291.50,232.31 L291.75,232.31 L292.00,232.31 L292.25,232.31 L292.50,232.31 L292.75,232.31 L293.00,232.31 L293.25,232.31 L293.50,232.30 L293.75,232.30 L294.00,232.30 L294.25,232.30 L294.50,232.30 L294.75,232.30 L295.00,232.30 L295.25,232.30 L295.50,232.30 L295.75,232.30 L296.00,232.30 L296.25,232.30 L296.50,232.30 L296.75,232.30 L297.00,232.30 L297.25,232.30 L297.50,232.30 L297.75,232.30 L298.00,232.30 L298.25,232.30 L298.50,232.30 L298.75,232.30 L299.00,232.30 L299.25,232.29 L299.50,232.29 L299.75,232.29 L300.00,232.29 L300.25,232.29 L300.50,232.29 L300.75,232.29 L301.00,232.29 L301.25,232.29 L301.50,232.29 L301.75,232.29 L302.00,232.29 L302.25,232.29 L302.50,232.29 L302.75,232.29 L303.00,232.29 L303.25,232.29 L303.50,232.29 L303.75,232.29 L304.00,232.29 L304.25,232.29 L304.50,232.29 L304.75,232.29 L305.00,232.29 L305.25,232.29 L305.50,232.29 L305.75,232.29 L306.00,232.29 L306.25,232.29 L306.50,232.29 L306.75,232.29 L307.00,232.29 L307.25,232.29 L307.50,232.29 L307.75,232.29 L308.00,232.29 L308.25,232.29 L308.50,232.29 L308.75,232.29 L309.00,232.29 L309.25,232.30 L309.50,232.30 L309.75,232.30 L310.00,232.30 L310.25,232.30 L310.50,232.30 L310.75,232.30 L311.00,232.30 L311.25,232.30 L311.50,232.30 L311.75,232.30 L312.00,232.30 L312.25,232.30 L312.50,232.30 L312.75,232.30 L313.00,232.30 L313.25,232.30 L313.50,232.30 L313.75,232.30 L314.00,232.31 L314.25,232.31 L314.50,232.31 L314.75,232.31 L315.00,232.31 L315.25,232.31 L315.50,232.31 L315.75,232.31 L316.00,232.31 L316.25,232.31 L316.50,232.31 L316.75,232.32 L317.00,232.32 L317.25,232.32 L317.50,232.32 L317.75,232.32 L318.00,232.32 L318.25,232.32 L318.50,232.32 L318.75,232.32 L319.00,232.33 L319.25,232.33 L319.50,232.33 L319.75,232.33 L320.00,232.33 L320.25,232.33 L320.50,232.33 L320.75,232.33 L321.00,232.34 L321.25,232.34 L321.50,232.34 L321.75,232.34 L322.00,232.34 L322.25,232.34 L322.50,232.35 L322.75,232.35 L323.00,232.35 L323.25,232.35 L323.50,232.35 L323.75,232.35 L324.00,232.36 L324.25,232.36 L324.50,232.36 L324.75,232.36 L325.00,232.36 L325.25,232.37 L325.50,232.37 L325.75,232.37 L326.00,232.37 L326.25,232.37 L326.50,232.38 L326.75,232.38 L327.00,232.38 L327.25,232.38 L327.50,232.38 L327.75,232.39 L328.00,232.39 L328.25,232.39 L328.50,232.39 L328.75,232.40 L329.00,232.40 L329.25,232.40 L329.50,232.40 L329.75,232.41 L330.00,232.41 L330.25,232.41 L330.50,232.41 L330.75,232.42 L331.00,232.42 L331.25,232.42 L331.50,232.42 L331.75,232.43 L332.00,232.43 L332.25,232.43 L332.50,232.44 L332.75,232.44 L333.00,232.44 L333.25,232.44 L333.50,232.45 L333.75,232.45 L334.00,232.45 L334.25,232.46 L334.50,232.46 L334.75,232.46 L335.00,232.47 L335.25,232.47 L335.50,232.47 L335.75,232.48 L336.00,232.48 L336.25,232.48 L336.50,232.49 L336.75,232.49 L337.00,232.49 L337.25,232.50 L337.50,232.50" stroke="#111111" stroke-width="1.4" stroke-dasharray="6 1.4 1.8 1.5"/>
<path d="M68.50,232.50 L68.75,232.50 L69.00,232.50 L69.25,232.50 L69.50,232.50 L69.75,232.50 L70.00,232.49 L70.25,232.47 L70.50,232.43 L70.75,232.40 L71.00,232.37 L71.25,232.34 L71.50,232.30 L71.75,232.27 L72.00,232.23 L72.25,232.19 L72.50,232.16 L72.75,232.12 L73.00,232.08 L73.25,232.04 L73.50,232.00 L73.75,231.96 L74.00,231.92 L74.25,231.88 L74.50,231.84 L74.75,231.80 L75.00,231.75 L75.25,231.71 L75.50,231.67 L75.75,231.62 L76.00,231.58 L76.25,231.54 L76.50,231.49 L76.75,231.45 L77.00,231.40 L77.25,231.36 L77.50,231.32 L77.75,231.27 L78.00,231.23 L78.25,231.18 L78.50,231.14 L78.75,231.10 L79.00,231.05 L79.25,231.01 L79.50,230.97 L79.75,230.93 L80.00,230.89 L80.25,230.84 L80.50,230.80 L80.75,230.76 L81.00,230.72 L81.25,230.68 L81.50,230.65 L81.75,230.61 L82.00,230.57 L82.25,230.53 L82.50,230.50 L82.75,230.46 L83.00,230.43 L83.25,230.39 L83.50,230.36 L83.75,230.33 L84.00,230.30 L84.25,230.27 L84.50,230.24 L84.75,230.21 L85.00,230.18 L85.25,230.15 L85.50,230.13 L85.75,230.10 L86.00,230.08 L86.25,230.05 L86.50,230.03 L86.75,230.01 L87.00,229.98 L87.25,229.96 L87.50,229.94 L87.75,229.92 L88.00,229.90 L88.25,229.88 L88.50,229.86 L88.75,229.85 L89.00,229.83 L89.25,229.81 L89.50,229.80 L89.75,229.78 L90.00,229.77 L90.25,229.76 L90.50,229.74 L90.75,229.73 L91.00,229.72 L91.25,229.71 L91.50,229.70 L91.75,229.68 L92.00,229.67 L92.25,229.67 L92.50,229.66 L92.75,229.65 L93.00,229.64 L93.25,229.63 L93.50,229.63 L93.75,229.62 L94.00,229.62 L94.25,229.61 L94.50,229.61 L94.75,229.60 L95.00,229.60 L95.25,229.60 L95.50,229.59 L95.75,229.59 L96.00,229.59 L96.25,229.59 L96.50,229.59 L96.75,229.58 L97.00,229.58 L97.25,229.58 L97.50,229.59 L97.75,229.59 L98.00,229.59 L98.25,229.59 L98.50,229.59 L98.75,229.59 L99.00,229.60 L99.25,229.60 L99.50,229.60 L99.75,229.61 L100.00,229.61 L100.25,229.62 L100.50,229.62 L100.75,229.63 L101.00,229.63 L101.25,229.64 L101.50,229.64 L101.75,229.65 L102.00,229.65 L102.25,229.66 L102.50,229.67 L102.75,229.68 L103.00,229.68 L103.25,229.69 L103.50,229.70 L103.75,229.71 L104.00,229.71 L104.25,229.72 L104.50,229.73 L104.75,229.74 L105.00,229.75 L105.25,229.76 L105.50,229.77 L105.75,229.78 L106.00,229.79 L106.25,229.80 L106.50,229.81 L106.75,229.82 L107.00,229.83 L107.25,229.84 L107.50,229.85 L107.75,229.86 L108.00,229.87 L108.25,229.88 L108.50,229.89 L108.75,229.90 L109.00,229.91 L109.25,229.92 L109.50,229.93 L109.75,229.94 L110.00,229.95 L110.25,229.96 L110.50,229.98 L110.75,229.99 L111.00,230.00 L111.25,230.01 L111.50,230.02 L111.75,230.03 L112.00,230.04 L112.25,230.05 L112.50,230.06 L112.75,230.07 L113.00,230.08 L113.25,230.10 L113.50,230.11 L113.75,230.12 L114.00,230.13 L114.25,230.14 L114.50,230.15 L114.75,230.16 L115.00,230.17 L115.25,230.18 L115.50,230.19 L115.75,230.20 L116.00,230.21 L116.25,230.22 L116.50,230.23 L116.75,230.24 L117.00,230.25 L117.25,230.26 L117.50,230.27 L117.75,230.28 L118.00,230.29 L118.25,230.30 L118.50,230.31 L118.75,230.32 L119.00,230.33 L119.25,230.34 L119.50,230.36 L119.75,230.37 L120.00,230.38 L120.25,230.38 L120.50,230.39 L120.75,230.40 L121.00,230.41 L121.25,230.42 L121.50,230.43 L121.75,230.44 L122.00,230.45 L122.25,230.46 L122.50,230.47 L122.75,230.48 L123.00,230.49 L123.25,230.50 L123.50,230.51 L123.75,230.52 L124.00,230.53 L124.25,230.54 L124.50,230.55 L124.75,230.56 L125.00,230.57 L125.25,230.58 L125.50,230.59 L125.75,230.60 L126.00,230.61 L126.25,230.62 L126.50,230.63 L126.75,230.63 L127.00,230.64 L127.25,230.65 L127.50,230.66 L127.75,230.67 L128.00,230.68 L128.25,230.69 L128.50,230.70 L128.75,230.71 L129.00,230.72 L129.25,230.73 L129.50,230.73 L129.75,230.74 L130.00,230.75 L130.25,230.76 L130.50,230.77 L130.75,230.78 L131.00,230.79 L131.25,230.80 L131.50,230.81 L131.75,230.81 L132.00,230.82 L132.25,230.83 L132.50,230.84 L132.75,230.85 L133.00,230.86 L133.25,230.87 L133.50,230.87 L133.75,230.88 L134.00,230.89 L134.25,230.90 L134.50,230.91 L134.75,230.92 L135.00,230.93 L135.25,230.93 L135.50,230.94 L135.75,230.95 L136.00,230.96 L136.25,230.97 L136.50,230.98 L136.75,230.98 L137.00,230.99 L137.25,231.00 L137.50,231.01 L137.75,231.02 L138.00,231.02 L138.25,231.03 L138.50,231.04 L138.75,231.05 L139.00,231.06 L139.25,231.06 L139.50,231.07 L139.75,231.08 L140.00,231.09 L140.25,231.10 L140.50,231.10 L140.75,231.11 L141.00,231.12 L141.25,231.13 L141.50,231.13 L141.75,231.14 L142.00,231.15 L142.25,231.16 L142.50,231.17 L142.75,231.17 L143.00,231.18 L143.25,231.19 L143.50,231.20 L143.75,231.20 L144.00,231.21 L144.25,231.22 L144.50,231.23 L144.75,231.23 L145.00,231.24 L145.25,231.25 L145.50,231.26 L145.75,231.26 L146.00,231.27 L146.25,231.28 L146.50,231.28 L146.75,231.29 L147.00,231.30 L147.25,231.31 L147.50,231.31 L147.75,231.32 L148.00,231.33 L148.25,231.33 L148.50,231.34 L148.75,231.35 L149.00,231.36 L149.25,231.36 L149.50,231.37 L149.75,231.38 L150.00,231.38 L150.25,231.39 L150.50,231.40 L150.75,231.40 L151.00,231.41 L151.25,231.42 L151.50,231.42 L151.75,231.43 L152.00,231.44 L152.25,231.45 L152.50,231.45 L152.75,231.46 L153.00,231.47 L153.25,231.47 L153.50,231.48 L153.75,231.49 L154.00,231.49 L154.25,231.50 L154.50,231.50 L154.75,231.51 L155.00,231.52 L155.25,231.52 L155.50,231.53 L155.75,231.54 L156.00,231.54 L156.25,231.55 L156.50,231.56 L156.75,231.56 L157.00,231.57 L157.25,231.57 L157.50,231.58 L157.75,231.59 L158.00,231.59 L158.25,231.60 L158.50,231.61 L158.75,231.61 L159.00,231.62 L159.25,231.62 L159.50,231.63 L159.75,231.64 L160.00,231.64 L160.25,231.65 L160.50,231.65 L160.75,231.66 L161.00,231.67 L161.25,231.67 L161.50,231.68 L161.75,231.68 L162.00,231.69 L162.25,231.70 L162.50,231.70 L162.75,231.71 L163.00,231.71 L163.25,231.72 L163.50,231.72 L163.75,231.73 L164.00,231.74 L164.25,231.74 L164.50,231.75 L164.75,231.75 L165.00,231.76 L165.25,231.76 L165.50,231.77 L165.75,231.78 L166.00,231.78 L166.25,231.79 L166.50,231.79 L166.75,231.80 L167.00,231.80 L167.25,231.81 L167.50,231.81 L167.75,231.82 L168.00,231.82 L168.25,231.83 L168.50,231.83 L168.75,231.84 L169.00,231.85 L169.25,231.85 L169.50,231.86 L169.75,231.86 L170.00,231.87 L170.25,231.87 L170.50,231.88 L170.75,231.88 L171.00,231.89 L171.25,231.89 L171.50,231.90 L171.75,231.90 L172.00,231.91 L172.25,231.91 L172.50,231.92 L172.75,231.92 L173.00,231.93 L173.25,231.93 L173.50,231.94 L173.75,231.94 L174.00,231.95 L174.25,231.95 L174.50,231.96 L174.75,231.96 L175.00,231.97 L175.25,231.97 L175.50,231.97 L175.75,231.98 L176.00,231.98 L176.25,231.99 L176.50,231.99 L176.75,232.00 L177.00,232.00 L177.25,232.01 L177.50,232.01 L177.75,232.02 L178.00,232.02 L178.25,232.03 L178.50,232.03 L178.75,232.03 L179.00,232.04 L179.25,232.04 L179.50,232.05 L179.75,232.05 L180.00,232.06 L180.25,232.06 L180.50,232.07 L180.75,232.07 L181.00,232.07 L181.25,232.08 L181.50,232.08 L181.75,232.09 L182.00,232.09 L182.25,232.10 L182.50,232.10 L182.75,232.10 L183.00,232.11 L183.25,232.11 L183.50,232.12 L183.75,232.12 L184.00,232.12 L184.25,232.13 L184.50,232.13 L184.75,232.14 L185.00,232.14 L185.25,232.14 L185.50,232.15 L185.75,232.15 L186.00,232.16 L186.25,232.16 L186.50,232.16 L186.75,232.17 L187.00,232.17 L187.25,232.18 L187.50,232.18 L187.75,232.18 L188.00,232.19 L188.25,232.19 L188.50,232.19 L188.75,232.20 L189.00,232.20 L189.25,232.21 L189.50,232.21 L189.75,232.21 L190.00,232.22 L190.25,232.22 L190.50,232.22 L190.75,232.23 L191.00,232.23 L191.25,232.24 L191.50,232.24 L191.75,232.24 L192.00,232.25 L192.25,232.25 L192.50,232.25 L192.75,232.26 L193.00,232.26 L193.25,232.26 L193.50,232.27 L193.75,232.27 L194.00,232.27 L194.25,232.28 L194.50,232.28 L194.75,232.28 L195.00,232.29 L195.25,232.29 L195.50,232.29 L195.75,232.30 L196.00,232.30 L196.25,232.30 L196.50,232.31 L196.75,232.31 L197.00,232.31 L197.25,232.32 L197.50,232.32 L197.75,232.32 L198.00,232.32 L198.25,232.33 L198.50,232.33 L198.75,232.33 L199.00,232.34 L199.25,232.34 L199.50,232.34 L199.75,232.35 L200.00,232.35 L200.25,232.35 L200.50,232.35 L200.75,232.36 L201.00,232.36 L201.25,232.36 L201.50,232.37 L201.75,232.37 L202.00,232.37 L202.25,232.37 L202.50,232.38 L202.75,232.38 L203.00,232.38 L203.25,232.39 L203.50,232.39 L203.75,232.39 L204.00,232.39 L204.25,232.40 L204.50,232.40 L204.75,232.40 L205.00,232.40 L205.25,232.41 L205.50,232.41 L205.75,232.41 L206.00,232.42 L206.25,232.42 L206.50,232.42 L206.75,232.42 L207.00,232.43 L207.25,232.43 L207.50,232.43 L207.75,232.43 L208.00,232.44 L208.25,232.44 L208.50,232.44 L208.75,232.44 L209.00,232.45 L209.25,232.45 L209.50,232.45 L209.75,232.45 L210.00,232.45 L210.25,232.46 L210.50,232.46 L210.75,232.46 L211.00,232.46 L211.25,232.47 L211.50,232.47 L211.75,232.47 L212.00,232.47 L212.25,232.48 L212.50,232.48 L212.75,232.48 L213.00,232.48 L213.25,232.48 L213.50,232.49 L213.75,232.49 L214.00,232.49 L214.25,232.49 L214.50,232.49 L214.75,232.50 L215.00,232.50 L215.25,232.50 L215.50,232.50 L215.75,232.50 L216.00,232.50 L216.25,232.50 L216.50,232.50 L216.75,232.50 L217.00,232.50 L217.25,232.50 L217.50,232.50 L217.75,232.50 L218.00,232.50 L218.25,232.50 L218.50,232.50 L218.75,232.50 L219.00,232.50 L219.25,232.50 L219.50,232.50 L219.75,232.50 L220.00,232.50 L220.25,232.50 L220.50,232.50 L220.75,232.50 L221.00,232.50 L221.25,232.50 L221.50,232.50 L221.75,232.50 L222.00,232.50 L222.25,232.50 L222.50,232.50 L222.75,232.50 L223.00,232.50 L223.25,232.50 L223.50,232.50 L223.75,232.50 L224.00,232.50 L224.25,232.50 L224.50,232.50 L224.75,232.50 L225.00,232.50 L225.25,232.50 L225.50,232.50 L225.75,232.50 L226.00,232.50 L226.25,232.50 L226.50,232.50 L226.75,232.50 L227.00,232.50 L227.25,232.50 L227.50,232.50 L227.75,232.50 L228.00,232.50 L228.25,232.50 L228.50,232.50 L228.75,232.50 L229.00,232.50 L229.25,232.50 L229.50,232.50 L229.75,232.50 L230.00,232.50 L230.25,232.50 L230.50,232.50 L230.75,232.50 L231.00,232.50 L231.25,232.50 L231.50,232.50 L231.75,232.50 L232.00,232.50 L232.25,232.50 L232.50,232.50 L232.75,232.50 L233.00,232.50 L233.25,232.50 L233.50,232.50 L233.75,232.50 L234.00,232.50 L234.25,232.50 L234.50,232.50 L234.75,232.50 L235.00,232.50 L235.25,232.50 L235.50,232.50 L235.75,232.50 L236.00,232.50 L236.25,232.50 L236.50,232.50 L236.75,232.50 L237.00,232.50 L237.25,232.50 L237.50,232.50 L237.75,232.50 L238.00,232.50 L238.25,232.50 L238.50,232.50 L238.75,232.50 L239.00,232.50 L239.25,232.50 L239.50,232.50 L239.75,232.50 L240.00,232.50 L240.25,232.50 L240.50,232.50 L240.75,232.50 L241.00,232.50 L241.25,232.50 L241.50,232.50 L241.75,232.50 L242.00,232.50 L242.25,232.50 L242.50,232.50 L242.75,232.50 L243.00,232.50 L243.25,232.50 L243.50,232.50 L243.75,232.50 L244.00,232.50 L244.25,232.50 L244.50,232.50 L244.75,232.50 L245.00,232.50 L245.25,232.50 L245.50,232.50 L245.75,232.50 L246.00,232.50 L246.25,232.50 L246.50,232.50 L246.75,232.50 L247.00,232.50 L247.25,232.50 L247.50,232.50 L247.75,232.50 L248.00,232.50 L248.25,232.50 L248.50,232.50 L248.75,232.50 L249.00,232.50 L249.25,232.50 L249.50,232.50 L249.75,232.50 L250.00,232.50 L250.25,232.50 L250.50,232.50 L250.75,232.50 L251.00,232.50 L251.25,232.50 L251.50,232.50 L251.75,232.50 L252.00,232.50 L252.25,232.50 L252.50,232.50 L252.75,232.50 L253.00,232.50 L253.25,232.50 L253.50,232.50 L253.75,232.50 L254.00,232.50 L254.25,232.50 L254.50,232.50 L254.75,232.50 L255.00,232.50 L255.25,232.50 L255.50,232.50 L255.75,232.50 L256.00,232.50 L256.25,232.50 L256.50,232.50 L256.75,232.50 L257.00,232.50 L257.25,232.50 L257.50,232.50 L257.75,232.50 L258.00,232.50 L258.25,232.50 L258.50,232.50 L258.75,232.50 L259.00,232.50 L259.25,232.50 L259.50,232.50 L259.75,232.50 L260.00,232.50 L260.25,232.50 L260.50,232.50 L260.75,232.50 L261.00,232.50 L261.25,232.50 L261.50,232.50 L261.75,232.50 L262.00,232.50 L262.25,232.50 L262.50,232.50 L262.75,232.50 L263.00,232.50 L263.25,232.50 L263.50,232.50 L263.75,232.50 L264.00,232.50 L264.25,232.50 L264.50,232.50 L264.75,232.50 L265.00,232.50 L265.25,232.50 L265.50,232.50 L265.75,232.50 L266.00,232.50 L266.25,232.50 L266.50,232.50 L266.75,232.50 L267.00,232.50 L267.25,232.50 L267.50,232.50 L267.75,232.50 L268.00,232.50 L268.25,232.50 L268.50,232.50 L268.75,232.50 L269.00,232.50 L269.25,232.50 L269.50,232.50 L269.75,232.50 L270.00,232.50 L270.25,232.50 L270.50,232.50 L270.75,232.50 L271.00,232.50 L271.25,232.50 L271.50,232.50 L271.75,232.50 L272.00,232.50 L272.25,232.50 L272.50,232.50 L272.75,232.50 L273.00,232.50 L273.25,232.50 L273.50,232.50 L273.75,232.50 L274.00,232.50 L274.25,232.50 L274.50,232.50 L274.75,232.50 L275.00,232.50 L275.25,232.50 L275.50,232.50 L275.75,232.50 L276.00,232.50 L276.25,232.50 L276.50,232.50 L276.75,232.50 L277.00,232.50 L277.25,232.50 L277.50,232.50 L277.75,232.50 L278.00,232.50 L278.25,232.50 L278.50,232.50 L278.75,232.50 L279.00,232.50 L279.25,232.50 L279.50,232.50 L279.75,232.50 L280.00,232.50 L280.25,232.50 L280.50,232.50 L280.75,232.50 L281.00,232.50 L281.25,232.50 L281.50,232.50 L281.75,232.50 L282.00,232.50 L282.25,232.50 L282.50,232.50 L282.75,232.50 L283.00,232.50 L283.25,232.50 L283.50,232.50 L283.75,232.50 L284.00,232.50 L284.25,232.50 L284.50,232.50 L284.75,232.50 L285.00,232.50 L285.25,232.50 L285.50,232.50 L285.75,232.50 L286.00,232.50 L286.25,232.50 L286.50,232.50 L286.75,232.50 L287.00,232.50 L287.25,232.50 L287.50,232.50 L287.75,232.50 L288.00,232.50 L288.25,232.50 L288.50,232.50 L288.75,232.50 L289.00,232.50 L289.25,232.50 L289.50,232.50 L289.75,232.50 L290.00,232.50 L290.25,232.50 L290.50,232.50 L290.75,232.50 L291.00,232.50 L291.25,232.50 L291.50,232.50 L291.75,232.50 L292.00,232.50 L292.25,232.50 L292.50,232.50 L292.75,232.50 L293.00,232.50 L293.25,232.50 L293.50,232.50 L293.75,232.50 L294.00,232.50 L294.25,232.50 L294.50,232.50 L294.75,232.50 L295.00,232.50 L295.25,232.50 L295.50,232.50 L295.75,232.50 L296.00,232.50 L296.25,232.50 L296.50,232.50 L296.75,232.50 L297.00,232.50 L297.25,232.50 L297.50,232.50 L297.75,232.50 L298.00,232.50 L298.25,232.50 L298.50,232.50 L298.75,232.50 L299.00,232.50 L299.25,232.50 L299.50,232.50 L299.75,232.50 L300.00,232.50 L300.25,232.50 L300.50,232.50 L300.75,232.50 L301.00,232.50 L301.25,232.50 L301.50,232.50 L301.75,232.50 L302.00,232.50 L302.25,232.50 L302.50,232.50 L302.75,232.50 L303.00,232.50 L303.25,232.50 L303.50,232.50 L303.75,232.50 L304.00,232.50 L304.25,232.50 L304.50,232.50 L304.75,232.50 L305.00,232.50 L305.25,232.50 L305.50,232.50 L305.75,232.50 L306.00,232.50 L306.25,232.50 L306.50,232.50 L306.75,232.50 L307.00,232.50 L307.25,232.50 L307.50,232.50 L307.75,232.50 L308.00,232.50 L308.25,232.50 L308.50,232.50 L308.75,232.50 L309.00,232.50 L309.25,232.50 L309.50,232.50 L309.75,232.50 L310.00,232.50 L310.25,232.50 L310.50,232.50 L310.75,232.50 L311.00,232.50 L311.25,232.50 L311.50,232.50 L311.75,232.50 L312.00,232.50 L312.25,232.50 L312.50,232.50 L312.75,232.50 L313.00,232.50 L313.25,232.50 L313.50,232.50 L313.75,232.50 L314.00,232.50 L314.25,232.50 L314.50,232.50 L314.75,232.50 L315.00,232.50 L315.25,232.50 L315.50,232.50 L315.75,232.50 L316.00,232.50 L316.25,232.50 L316.50,232.50 L316.75,232.50 L317.00,232.50 L317.25,232.50 L317.50,232.50 L317.75,232.50 L318.00,232.50 L318.25,232.50 L318.50,232.50 L318.75,232.50 L319.00,232.50 L319.25,232.50 L319.50,232.50 L319.75,232.50 L320.00,232.50 L320.25,232.50 L320.50,232.50 L320.75,232.50 L321.00,232.50 L321.25,232.50 L321.50,232.50 L321.75,232.50 L322.00,232.50 L322.25,232.50 L322.50,232.50 L322.75,232.50 L323.00,232.50 L323.25,232.50 L323.50,232.50 L323.75,232.50 L324.00,232.50 L324.25,232.50 L324.50,232.50 L324.75,232.50 L325.00,232.50 L325.25,232.50 L325.50,232.50 L325.75,232.50 L326.00,232.50 L326.25,232.50 L326.50,232.50 L326.75,232.50 L327.00,232.50 L327.25,232.50 L327.50,232.50 L327.75,232.50 L328.00,232.50 L328.25,232.50 L328.50,232.50 L328.75,232.50 L329.00,232.50 L329.25,232.50 L329.50,232.50 L329.75,232.50 L330.00,232.50 L330.25,232.50 L330.50,232.50 L330.75,232.50 L331.00,232.50 L331.25,232.50 L331.50,232.50 L331.75,232.50 L332.00,232.50 L332.25,232.50 L332.50,232.50 L332.75,232.50 L333.00,232.50 L333.25,232.50 L333.50,232.50 L333.75,232.50 L334.00,232.50 L334.25,232.50 L334.50,232.50 L334.75,232.50 L335.00,232.50 L335.25,232.50 L335.50,232.50 L335.75,232.49 L336.00,232.49 L336.25,232.49 L336.50,232.49 L336.75,232.49 L337.00,232.49 L337.25,232.49 L337.50,232.49" stroke="#3858bc" stroke-width="1.4" stroke-dasharray="5.9 1.3"/>
</g>
<g stroke-width="1.5" fill="none">
<path d="M301,97.9 H328.3" stroke="#e82a34"/>
<path d="M301,140.3 H328" stroke="#55c040" stroke-width="1.6" stroke-dasharray="1.7 1.85"/>
<path d="M300.9,151.7 H328" stroke="#111111" stroke-dasharray="6 1.4 1.8 1.5"/>
<path d="M300.9,162.5 H328" stroke="#3858bc" stroke-dasharray="5.9 1.2"/>
</g>
<g font-family="Liberation Sans, sans-serif" fill="#1a1a1a" stroke="#1a1a1a" stroke-width="0.22">
<text x="63.90" y="10.20" font-size="12.40" text-anchor="end" textLength="17.89" lengthAdjust="spacingAndGlyphs">0.8</text>
<text x="63.90" y="27.03" font-size="12.40" text-anchor="end" textLength="17.89" lengthAdjust="spacingAndGlyphs">0.7</text>
<text x="63.90" y="43.87" font-size="12.40" text-anchor="end" textLength="17.89" lengthAdjust="spacingAndGlyphs">0.6</text>
<text x="63.90" y="60.70" font-size="12.40" text-anchor="end" textLength="17.89" lengthAdjust="spacingAndGlyphs">0.5</text>
<text x="63.90" y="77.53" font-size="12.40" text-anchor="end" textLength="17.89" lengthAdjust="spacingAndGlyphs">0.4</text>
<text x="63.90" y="94.37" font-size="12.40" text-anchor="end" textLength="17.89" lengthAdjust="spacingAndGlyphs">0.3</text>
<text x="63.90" y="111.20" font-size="12.40" text-anchor="end" textLength="17.89" lengthAdjust="spacingAndGlyphs">0.2</text>
<text x="64.40" y="135.70" font-size="12.40" text-anchor="end" textLength="39.94" lengthAdjust="spacingAndGlyphs">0.0016</text>
<text x="64.40" y="148.32" font-size="12.40" text-anchor="end" textLength="39.94" lengthAdjust="spacingAndGlyphs">0.0014</text>
<text x="64.40" y="160.95" font-size="12.40" text-anchor="end" textLength="39.94" lengthAdjust="spacingAndGlyphs">0.0012</text>
<text x="64.40" y="173.57" font-size="12.40" text-anchor="end" textLength="32.75" lengthAdjust="spacingAndGlyphs">0.001</text>
<text x="64.40" y="186.20" font-size="12.40" text-anchor="end" textLength="39.94" lengthAdjust="spacingAndGlyphs">0.0008</text>
<text x="64.40" y="198.82" font-size="12.40" text-anchor="end" textLength="39.94" lengthAdjust="spacingAndGlyphs">0.0006</text>
<text x="64.40" y="211.45" font-size="12.40" text-anchor="end" textLength="39.94" lengthAdjust="spacingAndGlyphs">0.0004</text>
<text x="64.40" y="224.07" font-size="12.40" text-anchor="end" textLength="39.94" lengthAdjust="spacingAndGlyphs">0.0002</text>
<text x="64.40" y="236.70" font-size="12.40" text-anchor="end" textLength="7.59" lengthAdjust="spacingAndGlyphs">0</text>
<text x="70.80" y="244.80" font-size="12.40" text-anchor="middle" textLength="7.40" lengthAdjust="spacingAndGlyphs">0</text>
<text x="115.63" y="244.80" font-size="12.40" text-anchor="middle" textLength="7.40" lengthAdjust="spacingAndGlyphs">5</text>
<text x="160.47" y="244.80" font-size="12.40" text-anchor="middle" textLength="14.40" lengthAdjust="spacingAndGlyphs">10</text>
<text x="205.30" y="244.80" font-size="12.40" text-anchor="middle" textLength="14.40" lengthAdjust="spacingAndGlyphs">15</text>
<text x="250.13" y="244.80" font-size="12.40" text-anchor="middle" textLength="14.40" lengthAdjust="spacingAndGlyphs">20</text>
<text x="294.97" y="244.80" font-size="12.40" text-anchor="middle" textLength="14.40" lengthAdjust="spacingAndGlyphs">25</text>
<text x="339.80" y="244.80" font-size="12.40" text-anchor="middle" textLength="14.40" lengthAdjust="spacingAndGlyphs">30</text>
<text x="204.10" y="259.10" font-size="12.00" text-anchor="middle">g</text>
<g transform="translate(9.7,132.6) rotate(-90)" font-size="12" stroke-width="0.4"><text x="-0.3" y="0" textLength="8.3" lengthAdjust="spacingAndGlyphs">S</text><text x="8.3" y="2.0" font-size="7.4">F</text><text x="13.9" y="0" textLength="15.6" lengthAdjust="spacingAndGlyphs">(E)</text></g>
</g>
<g font-family="Liberation Sans, sans-serif" fill="#1a1a1a" stroke="#1a1a1a" stroke-width="0.2">
<text x="297.80" y="101.30" font-size="9.90" text-anchor="end" textLength="78.23" lengthAdjust="spacingAndGlyphs">1st excited state</text>
<text x="297.80" y="143.60" font-size="9.90" text-anchor="end" textLength="82.52" lengthAdjust="spacingAndGlyphs">2nd excited state</text>
<text x="297.80" y="154.30" font-size="9.90" text-anchor="end" textLength="80.30" lengthAdjust="spacingAndGlyphs">3rd excited state</text>
<text x="297.80" y="164.80" font-size="9.90" text-anchor="end" textLength="80.27" lengthAdjust="spacingAndGlyphs">4th excited state</text>
</g>
</svg>
</body></html>
